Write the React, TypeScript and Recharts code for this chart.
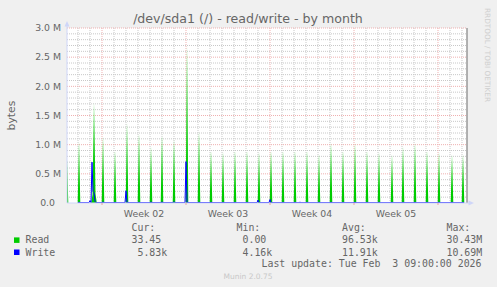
import React from "react";
import {
  ComposedChart,
  Area,
  Line,
  XAxis,
  YAxis,
  CartesianGrid,
  ReferenceLine,
} from "recharts";

// time axis is in hours since the left edge of the graph (800h window)
const RANGE_HOURS = 800;
const weekStarts = [70, 238, 406, 574, 742];
const weekMids = [154, 322, 490, 658];
const weekLabels = ["Week 02", "Week 03", "Week 04", "Week 05"];
const dayLines = [22, 46, 94, 118, 142, 166, 190, 214, 262, 286, 310, 334, 358, 382, 430, 454, 478, 502, 526, 550, 598, 622, 646, 670, 694, 718, 766, 790];

const yTicks = [0, 500000, 1000000, 1500000, 2000000, 2500000, 3000000];
const yMinor = [100000, 200000, 300000, 400000, 600000, 700000, 800000, 900000, 1100000, 1200000, 1300000, 1400000, 1600000, 1700000, 1800000, 1900000, 2100000, 2200000, 2300000, 2400000, 2600000, 2700000, 2800000, 2900000];

// read spikes (hour, bytes/s)
const readHours = [0, 24, 51, 54, 57, 72, 96, 120, 144, 168, 190, 214, 240, 264, 288, 312, 336, 360, 384, 408, 432, 456, 480, 504, 528, 552, 576, 600, 624, 650, 672, 696, 720, 744, 770, 792];
const readValues = [750000, 1050000, 140000, 1720000, 160000, 1140000, 910000, 1370000, 1200000, 970000, 1170000, 1090000, 2700000, 1230000, 910000, 880000, 910000, 910000, 880000, 910000, 910000, 910000, 910000, 850000, 1030000, 910000, 1030000, 910000, 880000, 830000, 970000, 1030000, 910000, 880000, 830000, 830000];

// write spikes (hour, bytes/s)
const writeBase = 6000;
const writeHours = [24, 46, 50, 52, 54, 56, 72, 96, 118, 144, 168, 190, 214, 238, 264, 288, 312, 336, 360, 382, 406, 432, 456, 466, 480, 504, 528, 552, 576, 600, 624, 650, 672, 696, 720, 744, 770, 792];
const writeValues = [15000, 40000, 700000, 200000, 180000, 30000, 20000, 15000, 210000, 15000, 20000, 20000, 25000, 710000, 15000, 15000, 15000, 15000, 15000, 50000, 60000, 15000, 15000, 15000, 15000, 15000, 15000, 15000, 15000, 15000, 15000, 15000, 15000, 15000, 15000, 15000, 15000, 15000];

const legendRows = [
  { name: "Read", color: "#00CC00", cur: "33.45", min: "0.00", avg: "96.53k", max: "30.43M", curPad: 0 },
  { name: "Write", color: "#0000FF", cur: "5.83k", min: "4.16k", avg: "11.91k", max: "10.69M", curPad: 1 },
];

function spikeSeries(hours: number[], values: number[], base: number, half: number) {
  const out: { t: number; v: number }[] = [];
  hours.forEach((h, i) => {
    if (i === 0 || hours[i - 1] < h - 3) out.push({ t: h - half, v: base });
    out.push({ t: h, v: values[i] });
    if (i === hours.length - 1 || hours[i + 1] > h + 3) out.push({ t: h + half, v: base });
  });
  return out;
}

const readData = spikeSeries(readHours, readValues, 0, 2.6);
const writeData = spikeSeries(writeHours, writeValues, writeBase, 2);

const SANS = "'DejaVu Sans', sans-serif";
const MONO = "'DejaVu Sans Mono', monospace";
const FONT = "#666666";
const AXIS = "#CFD6F8";

const W = 497;
const H = 287;
const PL = 67;
const PR = 467;
const PT = 28;
const PB = 203;

const yGen = (vals: number[]) => (args: any) => {
  const { yAxis, offset } = args;
  if (yAxis && typeof yAxis.scale === "function") return vals.map((v) => yAxis.scale(v));
  return vals.map((v) => offset.top + offset.height * (1 - v / 3000000));
};
const xGen = (vals: number[]) => (args: any) => {
  const { xAxis, offset } = args;
  if (xAxis && typeof xAxis.scale === "function") return vals.map((v) => xAxis.scale(v));
  return vals.map((v) => offset.left + (offset.width * v) / RANGE_HOURS);
};

const WeekTick = (props: any) => {
  const { x, y, payload } = props;
  const i = weekMids.indexOf(payload.value);
  if (i >= 0) {
    return (
      <text x={x} y={y + 14} textAnchor="middle" fontFamily={SANS} fontSize={9.33} fill={FONT}>
        {weekLabels[i]}
      </text>
    );
  }
  return <line x1={x} x2={x} y1={y} y2={y + 2} stroke="#eaa0a0" />;
};

const BytesTick = (props: any) => {
  const { x, y, payload } = props;
  const v = payload.value as number;
  const label = v === 0 ? "0.0" : (v / 1000000).toFixed(1) + " M";
  return (
    <text x={v === 0 ? x - 12 : x - 6} y={y} dy="0.35em" textAnchor="end" fontFamily={SANS} fontSize={9.33} fill={FONT}>
      {label}
    </text>
  );
};

export default function App() {
  return (
    <div style={{ position: "absolute", left: 0, top: 0, width: W, height: H, background: "#F0F0F0" }}>
      <ComposedChart width={W} height={H} margin={{ top: PT, right: W - PR, bottom: 0, left: 0 }}>
        <CartesianGrid
          fill="#FFFFFF"
          fillOpacity={1}
          stroke="#c8c8c8"
          strokeDasharray="1 1"
          horizontalCoordinatesGenerator={yGen(yMinor)}
          verticalCoordinatesGenerator={xGen(dayLines)}
        />
        <CartesianGrid
          stroke="#efb0b0"
          strokeDasharray="1 1"
          horizontalCoordinatesGenerator={yGen(yTicks.slice(1))}
          verticalCoordinatesGenerator={xGen(weekStarts)}
        />
        <XAxis
          type="number"
          dataKey="t"
          domain={[0, RANGE_HOURS]}
          allowDataOverflow
          ticks={[...weekStarts, ...weekMids].sort((a, b) => a - b)}
          interval={0}
          tick={WeekTick}
          tickSize={0}
          tickMargin={0}
          tickLine={false}
          axisLine={{ stroke: AXIS }}
          height={H - PB}
        />
        <YAxis
          type="number"
          domain={[0, 3000000]}
          allowDataOverflow
          ticks={yTicks}
          interval={0}
          tick={BytesTick}
          tickSize={0}
          tickMargin={0}
          tickLine={false}
          axisLine={{ stroke: AXIS }}
          width={PL}
        />
        <Area
          data={readData}
          dataKey="v"
          type="linear"
          fill="#00CC00"
          fillOpacity={1}
          stroke="none"
          isAnimationActive={false}
        />
        <Line
          data={writeData}
          dataKey="v"
          type="linear"
          stroke="#0000FF"
          strokeWidth={1}
          dot={false}
          isAnimationActive={false}
        />
        <ReferenceLine x={RANGE_HOURS} stroke="#999999" strokeWidth={1.5} />
      </ComposedChart>

      <svg width={W} height={H} style={{ position: "absolute", left: 0, top: 0, pointerEvents: "none" }}>
        <text x={248} y={23} textAnchor="middle" fontFamily={SANS} fontSize={12.6} fill={FONT}>
          /dev/sda1 (/) - read/write - by month
        </text>
        <text
          x={11}
          y={(PT + PB) / 2}
          textAnchor="middle"
          dy="0.35em"
          fontFamily={SANS}
          fontSize={10.8}
          fill={FONT}
          transform={`rotate(-90 11 ${(PT + PB) / 2})`}
        >
          bytes
        </text>
        <text
          x={488}
          y={55}
          textAnchor="middle"
          dy="0.35em"
          fontFamily={SANS}
          fontSize={7.3}
          fill="#cfcfcf"
          transform="rotate(90 488 55)"
        >
          RRDTOOL / TOBI OETIKER
        </text>

        {/* axis arrows */}
        <line x1={PL} x2={PL} y1={PT} y2={24} stroke={AXIS} />
        <polygon points={`${PL},21 ${PL - 2.5},26.5 ${PL + 2.5},26.5`} fill={AXIS} />
        <line x1={PR} x2={470} y1={PB} y2={PB} stroke={AXIS} />
        <polygon points={`474,${PB} 468.5,${PB - 2.5} 468.5,${PB + 2.5}`} fill={AXIS} />

        {/* legend table */}
        <g fontFamily={MONO} fontSize={9.9} fill={FONT}>
          <text x={131.5} y={231.3}>Cur:</text>
          <text x={236.5} y={231.3}>Min:</text>
          <text x={342} y={231.3}>Avg:</text>
          <text x={446.5} y={231.3}>Max:</text>
          {legendRows.map((r, i) => {
            const y = 243.4 + i * 12.1;
            return (
              <g key={r.name}>
                <rect x={14} y={y - 6} width={5.5} height={5.5} fill={r.color} />
                <text x={25.5} y={y}>{r.name}</text>
                <text x={131.5 + r.curPad * 5.96} y={y}>{r.cur}</text>
                <text x={242.5} y={y}>{r.min}</text>
                <text x={342} y={y}>{r.avg}</text>
                <text x={446.5} y={y}>{r.max}</text>
              </g>
            );
          })}
          <text x={261.5} y={267.4} xmlSpace="preserve" style={{ whiteSpace: "pre" }}>
            {"Last update: Tue Feb  3 09:00:00 2026"}
          </text>
        </g>
        <text x={248} y={279.3} textAnchor="middle" fontFamily={SANS} fontSize={7.5} fill="#c8c8c8">
          Munin 2.0.75
        </text>
      </svg>
    </div>
  );
}
